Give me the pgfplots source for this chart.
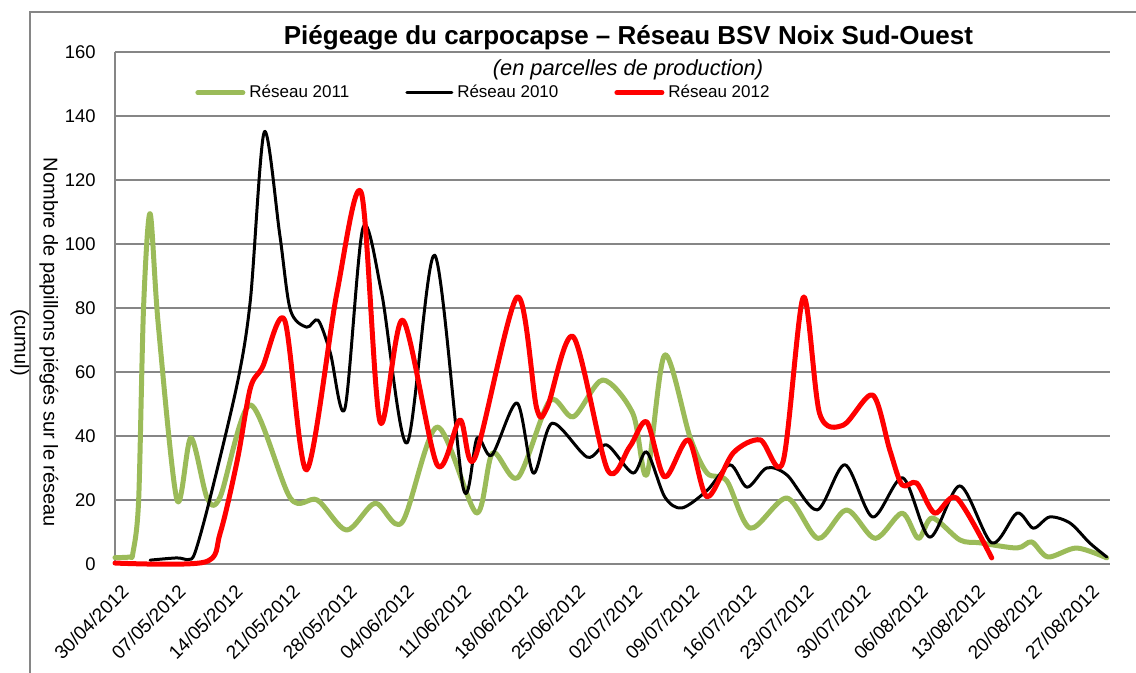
\documentclass[border=0pt]{standalone}
\usepackage{fontspec}
\setmainfont{Liberation Sans}
\usepackage{pgfplots}
\pgfplotsset{compat=1.18}
\definecolor{g11}{RGB}{155,187,89}
\definecolor{gridg}{RGB}{134,134,134}
\begin{document}
\begin{tikzpicture}
\useasboundingbox (0,0) rectangle (568pt,-336.5pt);
\draw[gridg, line width=1pt] (15pt,-340pt) -- (15pt,-6pt) -- (570pt,-6pt);
\begin{axis}[
  at={(57.5pt,-282pt)}, anchor=south west,
  scale only axis, width=497.5pt, height=256pt,
  xmin=0, xmax=122, ymin=0, ymax=160,
  axis x line*=bottom, axis y line*=left,
  axis line style={gridg, line width=1pt, -},
  ytick={0,20,...,160},
  xtick={0,7,...,119},
  xticklabels={30/04/2012,07/05/2012,14/05/2012,21/05/2012,28/05/2012,04/06/2012,11/06/2012,18/06/2012,25/06/2012,02/07/2012,09/07/2012,16/07/2012,23/07/2012,30/07/2012,06/08/2012,13/08/2012,20/08/2012,27/08/2012},
  major tick length=0pt,
  ymajorgrids, grid style={gridg, line width=1pt},
  /pgf/number format/assume math mode=true,
  yticklabel style={font=\fontsize{9.2}{11}\selectfont, anchor=east, inner sep=0pt, xshift=-9.5pt},
  xticklabel style={xshift=2.5pt, yshift=-9.5pt, font=\fontsize{9.5}{11}\selectfont, rotate=45, anchor=north east, inner sep=0pt},
  clip=false,
  legend columns=3,
  legend style={at={(0.0804,0.9205)}, anchor=west, draw=none, fill=none, font=\fontsize{8.5}{10}\selectfont, inner sep=0pt, /tikz/every even column/.append style={column sep=26pt}},
  legend image code/.code={\draw[#1] (0pt,0pt) -- (22.5pt,0pt);},
  every axis plot/.append style={smooth, line join=round, line cap=round},
]
\addplot[g11, line width=2.5pt] coordinates {
(0,2) (1.8,2.2) (2.2,3.5) (2.9,20) (3.5,80) (4.3,109.5) (5.3,75) (7.6,20) (9.3,39.4) (11.3,20.6) (12.9,21) (16.6,49.7)
(21.5,20.6) (24.8,20) (28.4,10.6) (31.9,19) (35.2,13) (39.5,42.8) (44.3,16) (46.3,34.7) (49.4,27)
(53.3,51) (56.2,46) (59.8,57.5) (63.5,47) (65.2,27.8) (67.4,65.3) (70.5,39.7) (72.6,28.4) (75.0,26)
(77.9,11.2) (82.4,20.6) (86.2,8) (89.7,16.9) (93.2,8) (96.5,15.9) (98.5,8) (100.2,14.4) (103.6,7.5)
(106.1,6.6) (110.6,5) (112.4,6.9) (114.4,2.2) (117.9,5) (121.6,1.9)};
\addlegendentry{Réseau 2011}
\addplot[black, line width=1.5pt] coordinates {
(4.3,1.2) (7.6,1.9) (9.0,1.4) (9.8,3.5) (11.6,20) (15.0,56.5) (16.6,82.5) (18.3,135) (20.2,103) (21.5,79.4)
(23.5,74) (24.9,76.2) (26.4,66) (28.2,48.7) (30.4,105) (32.7,84.6) (35.8,37.8) (39.2,96.5) (42.7,23.7)
(44.4,39.4) (46.2,34) (49.3,50.3) (51.3,28.4) (53.6,44) (57.9,33.4) (60.3,37.2) (63.5,28.4) (65.2,35)
(67.4,21) (69.5,17.5) (72.6,23) (75.4,31) (77.5,24) (79.9,30) (82.4,27.8) (86.1,16.9) (89.5,31)
(92.9,14.7) (96.6,26.9) (99.9,8.4) (103.6,24.4) (107.5,6.6) (110.6,15.9) (112.6,11.2) (114.6,14.7)
(117.1,12.8) (119.5,6.6) (121.6,2.2)};
\addlegendentry{Réseau 2010}
\addplot[red, line width=2.5pt] coordinates {
(0,0.3) (11.0,0.6) (12.9,9.7) (15.0,32.5) (16.6,55) (18.1,61.6) (20.8,76.2) (23.5,29.4) (27.2,84.6)
(30.2,116) (32.5,44.4) (35.3,76.2) (39.5,31) (42.3,45) (44.1,33) (49.3,83.4) (51.7,48.7) (53.0,49)
(56.2,71) (60.4,29.4) (63.1,36.6) (65.2,44.4) (67.4,27.2) (70.3,38.8) (72.6,21) (75.8,34.7) (79.1,38.8)
(81.9,31.9) (84.4,83.4) (86.4,47) (89.3,43.4) (92.9,52.8) (95.0,35.6) (96.5,24.7) (98.3,25.3)
(100.5,15.9) (103.2,20.6) (107.5,1.9)};
\addlegendentry{Réseau 2012}
\end{axis}
\node[anchor=base, font=\bfseries\fontsize{13}{15}\selectfont] at (314.25pt,-22.5pt) {Piégeage du carpocapse – Réseau BSV Noix Sud-Ouest};
\node[anchor=base, font=\itshape\fontsize{10.9}{13}\selectfont] at (314pt,-38pt) {(en parcelles de production)};
\node[rotate=-90, align=center, font=\fontsize{10}{14.5}\selectfont] at (17.25pt,-171.25pt) {Nombre de papillons piégés sur le réseau\\(cumul)};
\end{tikzpicture}
\end{document}
